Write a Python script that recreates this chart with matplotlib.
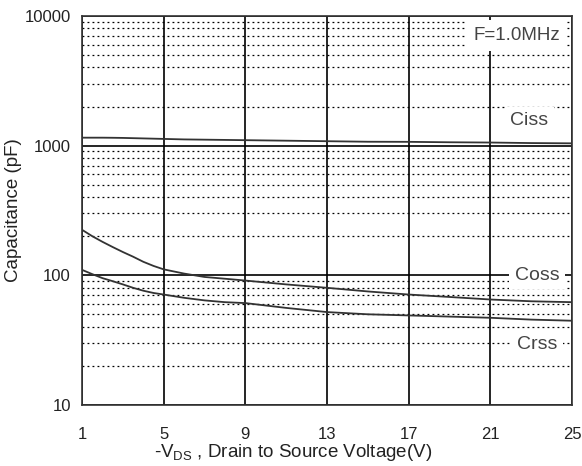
#! /usr/bin/env python3
# -*- coding: utf-8 -*-

' capacitance vs drain-source voltage '

import matplotlib
matplotlib.use('Agg')
import matplotlib.pyplot as plt
from matplotlib.ticker import FixedLocator, NullFormatter

plt.rcParams['font.family'] = ['Liberation Sans', 'DejaVu Sans']

# Data
vds = [1, 1.5, 2, 2.5, 3, 3.5, 4, 4.5, 5, 6, 7, 8, 9, 11, 13, 15, 17, 19, 21, 23, 25]
ciss = [1150, 1150, 1150, 1148, 1145, 1140, 1135, 1130, 1125, 1115, 1110, 1105, 1100,
        1090, 1080, 1070, 1068, 1060, 1055, 1045, 1040]
coss = [224, 200, 181, 165, 151, 139, 127, 118, 111, 103, 97, 94, 91,
        85, 80, 75, 71, 68, 65, 63, 62]
crss = [110, 102, 95, 90, 85, 80, 76, 73, 71, 67, 64, 62, 61,
        56, 52, 50, 49, 48, 47, 45.5, 44.6]

xticks = [1, 5, 9, 13, 17, 21, 25]
yticks = [10, 100, 1000, 10000]


def main():
    fig = plt.figure(figsize=(5.82, 4.66), dpi=100)
    ax = fig.add_axes([0.141, 0.131, 0.842, 0.835])

    for ys in (ciss, coss, crss):
        ax.plot(vds, ys, color='#333333', lw=1.3, zorder=3)

    ax.set_yscale('log')
    ax.set_xlim(1, 25)
    ax.set_ylim(10, 10000)
    ax.set_xticks(xticks)
    ax.set_xticklabels([str(x) for x in xticks])
    ax.set_yticks(yticks)
    ax.set_yticklabels([str(y) for y in yticks])
    minors = [m * 10 ** d for d in range(1, 4) for m in range(2, 10)]
    ax.yaxis.set_minor_locator(FixedLocator(minors))
    ax.yaxis.set_minor_formatter(NullFormatter())
    ax.tick_params(which='both', length=0)
    ax.tick_params(axis='x', pad=16, labelsize=12, labelcolor='#222222')
    ax.tick_params(axis='y', pad=8, labelsize=12, labelcolor='#222222')

    ax.grid(True, which='major', axis='x', color='black', lw=1.2)
    ax.grid(True, which='major', axis='y', color='black', lw=1.2)
    ax.grid(True, which='minor', axis='y', color='black', lw=0.9, ls=(0, (1.5, 2.5)))
    for s in ax.spines.values():
        s.set_linewidth(1.2)
        s.set_color('#333333')

    ax.set_ylabel('Capacitance (pF)', fontsize=13.5, color='#222222', labelpad=2)
    ax.set_xlabel('-V$_{\\mathregular{DS}}$ , Drain to Source Voltage(V)', fontsize=13.5,
                  color='#222222', labelpad=0)
    ax.xaxis.label.set_x(0.43)

    box = dict(facecolor='white', edgecolor='none', pad=4)
    ax.text(24.4, 7000, 'F=1.0MHz', ha='right', va='center', fontsize=13.5,
            color='#444444', bbox=dict(facecolor='white', edgecolor='none', pad=5), zorder=4)
    ax.text(22.9, 1550, 'Ciss', ha='center', va='center', fontsize=14,
            color='#444444', bbox=box, zorder=4)
    ax.text(23.3, 100, 'Coss', ha='center', va='center', fontsize=14,
            color='#444444', bbox=box, zorder=4)
    ax.text(23.3, 29, 'Crss', ha='center', va='center', fontsize=14,
            color='#444444', bbox=box, zorder=4)

    plt.savefig('out.png')
    plt.close()


if __name__ == '__main__':
    main()
